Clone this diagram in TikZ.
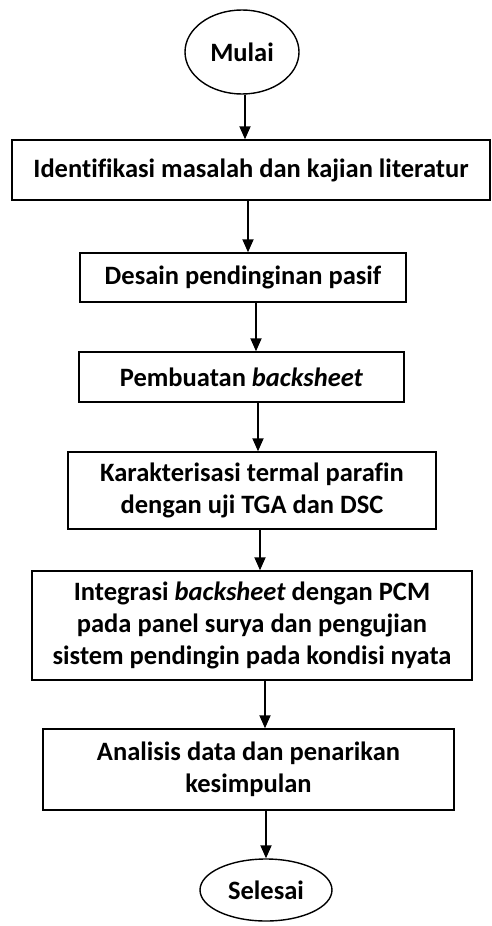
\documentclass[tikz,border=0pt]{standalone}
\usepackage{fontspec}
\setmainfont[Ligatures=NoCommon]{Carlito}
\usepackage{tikz}
\usetikzlibrary{arrows.meta,shapes.geometric}
\definecolor{flowink}{HTML}{000000}

\begin{document}
\begin{tikzpicture}[
  x=1pt,y=-1pt,
  terminal/.style={ellipse,draw=flowink,line width=1.4pt,inner sep=0pt,font=\fontsize{26.5}{32}\selectfont\bfseries},
  stage/.style={rectangle,draw=flowink,line width=1.4pt,inner sep=0pt,align=center,font=\fontsize{26.5}{32}\selectfont\bfseries},
  arrow/.style={-{Triangle[length=13pt,width=11pt]},line width=1.8pt,draw=flowink}
]
\useasboundingbox (0,0) rectangle (491,926);
\node[terminal,minimum width=114pt,minimum height=84pt] (start) at (242,52) {Mulai};
\node[stage,minimum width=478pt,minimum height=60pt] (b1) at (251,170) {Identifikasi masalah dan kajian literatur};
\node[stage,minimum width=326pt,minimum height=49pt] (b2) at (243,277.5) {Desain pendinginan pasif};
\node[stage,minimum width=325pt,minimum height=50pt] (b3) at (241.5,377) {Pembuatan \textit{backsheet}};
\node[stage,minimum width=368pt,minimum height=77pt] (b4) at (252,490.5) {Karakterisasi termal parafin\\dengan uji TGA dan DSC};
\node[stage,minimum width=440pt,minimum height=109pt] (b5) at (252,625.5) {Integrasi \textit{backsheet} dengan PCM\\pada panel surya dan pengujian\\sistem pendingin pada kondisi nyata};
\node[stage,minimum width=411pt,minimum height=81pt] (b6) at (248.5,769.5) {Analisis data dan penarikan\\kesimpulan};
\node[terminal,minimum width=132pt,minimum height=62pt] (finish) at (266,890) {Selesai};
% each step feeds the next one straight down
\foreach \a/\b/\dx in {start/b1/3,b1/b2/-3,b2/b3/13,b3/b4/16.5,b4/b5/8,b5/b6/13,b6/finish/17.5}
  \draw[arrow] ([xshift=\dx pt]\a.south) -- ([xshift=\dx pt]\a.south |- \b.north);
\end{tikzpicture}
\end{document}
